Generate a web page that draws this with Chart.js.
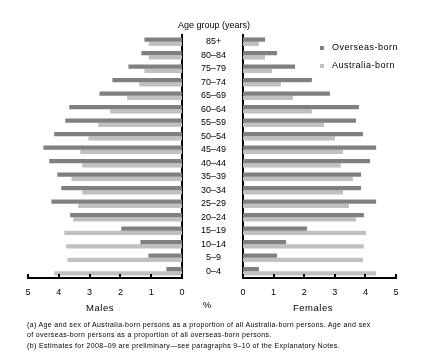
<!DOCTYPE html>
<html>
<head>
<meta charset="utf-8">
<script src="https://cdn.jsdelivr.net/npm/chart.js@4.4.0/dist/chart.umd.min.js"></script>
<style>
  body { margin: 0; background: #fff; font-family: "Liberation Sans", Arial, sans-serif; }
  #wrap { position: relative; width: 425px; height: 362px; overflow: hidden; }
  canvas { position: absolute; left: 0; top: 0; }
  .txt { position: absolute; font-size: 9px; line-height: 1; color: #000; white-space: nowrap; }
  .c { transform: translate(-50%, -50%); }
  .wide { letter-spacing: 0.5px; }
  .note { position: absolute; left: 27px; font-size: 7px; line-height: 10px; letter-spacing: 0.35px; color: #000; white-space: nowrap; }
  .sw { position: absolute; width: 4px; height: 4px; }
</style>
</head>
<body>
<div id="wrap">
  <canvas id="males" width="425" height="362"></canvas>
  <canvas id="females" width="425" height="362"></canvas>

  <div class="txt c" style="left:214px; top:25px;">Age group (years)</div>

  <div class="sw" style="left:320px; top:46px; background:#808080;"></div>
  <div class="txt wide" style="left:332px; top:43px;">Overseas-born</div>
  <div class="sw" style="left:320px; top:64px; background:#c0c0c0;"></div>
  <div class="txt wide" style="left:332px; top:61px;">Australia-born</div>

  <div class="txt c wide" style="left:100px; top:308px; font-size:9.5px;">Males</div>
  <div class="txt c" style="left:207px; top:305px;">%</div>
  <div class="txt c wide" style="left:313px; top:308px; font-size:9.5px;">Females</div>

  <div class="note" style="top:320px;">(a) Age and sex of Australia-born persons as a proportion of all Australia-born persons. Age and sex<br>of overseas-born persons as a proportion of all overseas-born persons.</div>
  <div class="note" style="top:341px;">(b) Estimates for 2008–09 are preliminary—see paragraphs 9–10 of the Explanatory Notes.</div>
</div>

<script>
// Age groups, top to bottom
const ageGroups = ['85+', '80–84', '75–79', '70–74', '65–69', '60–64', '55–59', '50–54', '45–49',
    '40–44', '35–39', '30–34', '25–29', '20–24', '15–19', '10–14', '5–9', '0–4'];

// Percent of each population
const maleOverseas = [1.22, 1.32, 1.74, 2.26, 2.68, 3.66, 3.79, 4.15, 4.50, 4.31, 4.05, 3.92, 4.24, 3.63, 1.97, 1.35, 1.09, 0.51];
const maleAustralia = [1.08, 1.08, 1.22, 1.39, 1.78, 2.33, 2.72, 3.04, 3.30, 3.24, 3.59, 3.24, 3.37, 3.53, 3.82, 3.76, 3.72, 4.15];
const femaleOverseas = [0.72, 1.11, 1.70, 2.25, 2.84, 3.79, 3.69, 3.92, 4.35, 4.15, 3.86, 3.86, 4.35, 3.95, 2.09, 1.41, 1.11, 0.52];
const femaleAustralia = [0.52, 0.72, 0.95, 1.24, 1.63, 2.25, 2.65, 3.01, 3.27, 3.20, 3.59, 3.27, 3.46, 3.69, 4.02, 3.95, 3.92, 4.35];

const xTicks = [0, 1, 2, 3, 4, 5];

const darkGrey = '#808080';
const lightGrey = '#c0c0c0';
const font = { family: '"Liberation Sans", Arial, sans-serif', size: 9 };

// tick marks pointing up into the plot, like the original
const innerTicks = {
    id: 'innerTicks',
    afterDraw(chart) {
        const scale = chart.scales.x;
        const ctx = chart.ctx;
        ctx.save();
        ctx.strokeStyle = '#000';
        ctx.lineWidth = 2;
        xTicks.forEach(v => {
            const px = Math.round(scale.getPixelForValue(v));
            ctx.beginPath();
            ctx.moveTo(px, scale.top);
            ctx.lineTo(px, scale.top - 4);
            ctx.stroke();
        });
        ctx.restore();
    }
};

function makeChart(id, overseas, australia, isLeft) {
    return new Chart(document.getElementById(id), {
        type: 'bar',
        data: {
            labels: ageGroups,
            datasets: [
                { label: 'Overseas-born', data: overseas, backgroundColor: darkGrey },
                { label: 'Australia-born', data: australia, backgroundColor: lightGrey }
            ]
        },
        options: {
            indexAxis: 'y',
            responsive: false,
            animation: false,
            events: [],
            categoryPercentage: 0.64,
            barPercentage: 1.0,
            layout: {
                padding: isLeft
                    ? { left: 28, right: 182, top: 35, bottom: 0 }
                    : { left: 243, right: 29, top: 35, bottom: 0 }
            },
            plugins: {
                legend: { display: false },
                tooltip: { enabled: false }
            },
            scales: {
                x: {
                    min: 0,
                    max: 5,
                    reverse: isLeft,
                    afterBuildTicks: s => { s.ticks = xTicks.map(v => ({ value: v })); },
                    afterFit: s => { s.height = 84; },
                    grid: { display: false, drawTicks: false },
                    border: { display: true, color: '#000', width: 2 },
                    ticks: { color: '#000', font: font, padding: 9, maxRotation: 0 }
                },
                y: {
                    position: isLeft ? 'right' : 'left',
                    afterFit: s => { s.width = isLeft ? 61 : 0; },
                    grid: { display: false, drawTicks: false },
                    border: { display: true, color: '#000', width: 2 },
                    ticks: isLeft
                        ? { color: '#000', font: font, crossAlign: 'center', padding: 19, autoSkip: false }
                        : { display: false }
                }
            }
        },
        plugins: [innerTicks]
    });
}

makeChart('males', maleOverseas, maleAustralia, true);
makeChart('females', femaleOverseas, femaleAustralia, false);
</script>
</body>
</html>
